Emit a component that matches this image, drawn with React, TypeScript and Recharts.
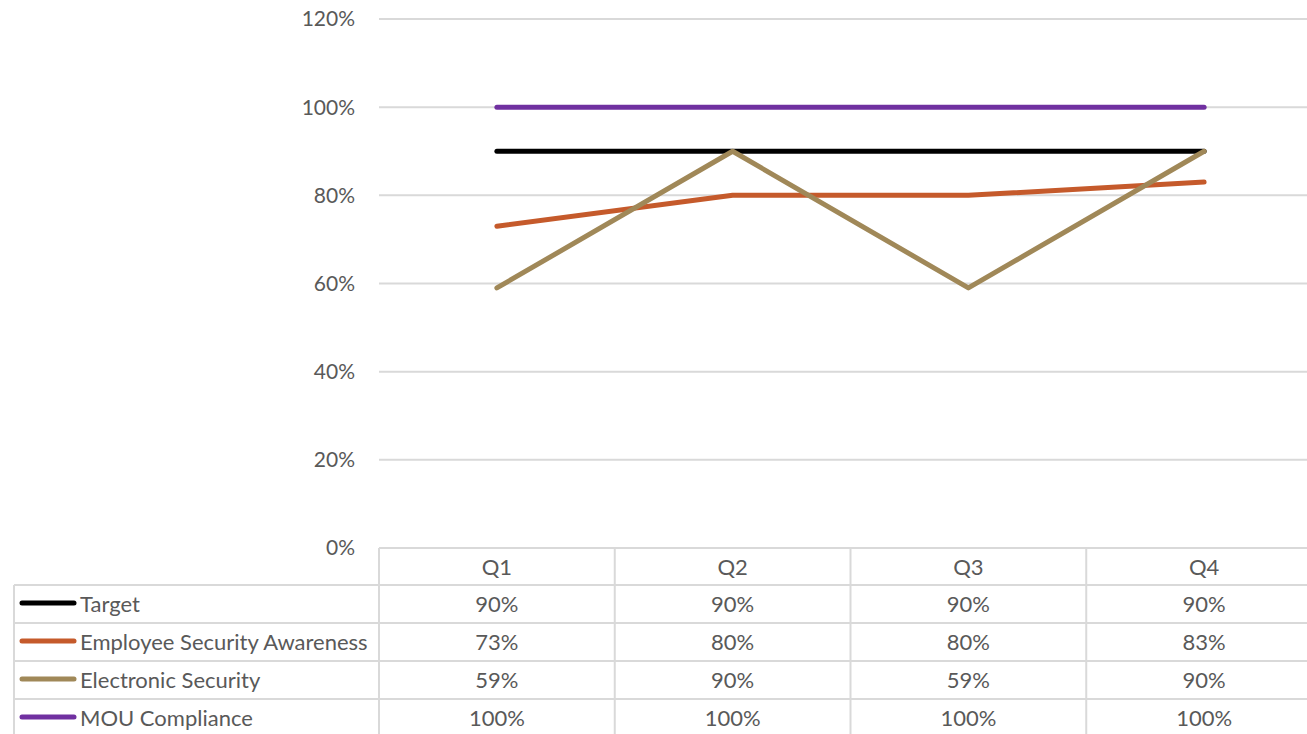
import React from 'react';
import { LineChart, Line, XAxis, YAxis, CartesianGrid } from 'recharts';

const categories = ['Q1', 'Q2', 'Q3', 'Q4'];
const seriesNames = ['Target', 'Employee Security Awareness', 'Electronic Security', 'MOU Compliance'];
const target = [0.9, 0.9, 0.9, 0.9];
const employeeAwareness = [0.73, 0.8, 0.8, 0.83];
const electronicSecurity = [0.59, 0.9, 0.59, 0.9];
const mouCompliance = [1, 1, 1, 1];
const yTicks = [0, 0.2, 0.4, 0.6, 0.8, 1.0, 1.2];

const seriesKeys = ['target', 'employee', 'electronic', 'mou'];
const seriesColors = ['#000000', '#C55A2B', '#A08858', '#7030A0'];
const seriesValues = [target, employeeAwareness, electronicSecurity, mouCompliance];

const data = categories.map((c, i) => ({
  cat: c,
  target: target[i],
  employee: employeeAwareness[i],
  electronic: electronicSecurity[i],
  mou: mouCompliance[i],
}));

const W = 1330;
const H = 734;
const PLOT_LEFT = 379;
const PLOT_RIGHT = 1322;
const PLOT_TOP = 19;
const PLOT_BOTTOM = 548;
const TABLE_LEFT = 14;
const HEADER_H = 37;
const ROW_H = 38;
const FONT = 'Lato, "Open Sans", sans-serif';
const FS = 21;
const FS_T = 22;
const TXT = '#595959';
const GRID = '#d9d9d9';

const pct = (v: number) => `${Math.round(v * 100)}%`;

const TableColumn = (props: any) => {
  const { x, payload } = props;
  const idx = payload.index;
  const bw = (PLOT_RIGHT - PLOT_LEFT) / categories.length;
  const left = x - bw / 2;
  const right = x + bw / 2;
  const top = PLOT_BOTTOM;
  const els: React.ReactNode[] = [];
  els.push(<line key="vl" x1={left} x2={left} y1={top} y2={H} stroke={GRID} strokeWidth={2} />);
  for (let r = 0; r <= seriesNames.length; r++) {
    const yy = top + HEADER_H + r * ROW_H;
    els.push(<line key={`h${r}`} x1={left} x2={right} y1={yy} y2={yy} stroke={GRID} strokeWidth={2} />);
  }
  els.push(<line key="top" x1={left} x2={right} y1={top} y2={top} stroke={GRID} strokeWidth={2} />);
  els.push(
    <text key="hdr" x={x} y={top + HEADER_H / 2 - 0.5} textAnchor="middle" dominantBaseline="central"
      fontFamily={FONT} fontSize={FS_T} fill={TXT}>{payload.value}</text>
  );
  seriesValues.forEach((vals, r) => {
    els.push(
      <text key={`v${r}`} x={x} y={top + HEADER_H + r * ROW_H + ROW_H / 2 - 1} textAnchor="middle" dominantBaseline="central"
        fontFamily={FONT} fontSize={FS_T} fill={TXT}>{pct(vals[idx])}</text>
    );
  });
  if (idx === 0) {
    els.push(<line key="ll" x1={TABLE_LEFT} x2={TABLE_LEFT} y1={top + HEADER_H} y2={H} stroke={GRID} strokeWidth={2} />);
    for (let r = 0; r <= seriesNames.length; r++) {
      const yy = top + HEADER_H + r * ROW_H;
      els.push(<line key={`lh${r}`} x1={TABLE_LEFT} x2={left} y1={yy} y2={yy} stroke={GRID} strokeWidth={2} />);
    }
    seriesNames.forEach((name, r) => {
      const cy = top + HEADER_H + r * ROW_H + ROW_H / 2 - 1;
      els.push(<line key={`sw${r}`} x1={22} x2={74} y1={cy} y2={cy} stroke={seriesColors[r]} strokeWidth={5} strokeLinecap="round" />);
      els.push(
        <text key={`n${r}`} x={80} y={cy} dominantBaseline="central" fontFamily={FONT} fontSize={FS_T} fill={TXT}>{name}</text>
      );
    });
  }
  return <g>{els}</g>;
};

export default function App() {
  return (
    <div style={{ position: 'absolute', left: 0, top: 0, width: 1307, height: 734, overflow: 'hidden', background: '#fff' }}>
      <LineChart width={W} height={H} data={data}
        margin={{ top: PLOT_TOP, right: W - PLOT_RIGHT, left: 0, bottom: 0 }}>
        <CartesianGrid vertical={false} stroke={GRID} strokeWidth={2} />
        <XAxis dataKey="cat" scale="band" axisLine={false} tickLine={false} tickSize={0} tickMargin={0}
          height={H - PLOT_BOTTOM} tick={<TableColumn />} interval={0} />
        <YAxis domain={[0, 1.2]} ticks={yTicks} width={PLOT_LEFT} axisLine={false} tickLine={false}
          tickSize={0} tickMargin={24} tickFormatter={pct}
          tick={{ fontFamily: FONT, fontSize: FS, fill: TXT }} />
        {seriesKeys.map((k, i) => (
          <Line key={k} dataKey={k} stroke={seriesColors[i]} strokeWidth={5} dot={false}
            strokeLinecap="round" strokeLinejoin="round" isAnimationActive={false} />
        ))}
      </LineChart>
    </div>
  );
}
